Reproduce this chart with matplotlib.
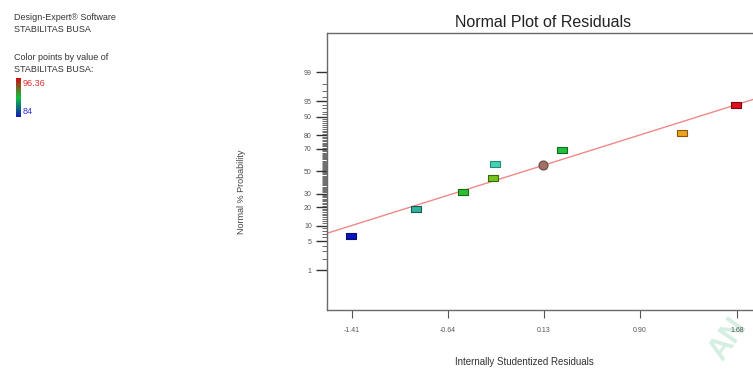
import numpy as np
import matplotlib
matplotlib.use("Agg")
import matplotlib.pyplot as plt
from matplotlib.colors import LinearSegmentedColormap
from statistics import NormalDist

plt.rcParams['font.family'] = ['Liberation Sans', 'DejaVu Sans']

# -------------------------------
# Data
# -------------------------------
residuals = [-1.418, -0.894, -0.522, -0.276, -0.260, 0.125, 0.273, 1.241, 1.672]
norm_prob = [6.3, 19.0, 31.3, 44.1, 56.8, 55.9, 68.9, 81.4, 93.9]
point_colors = ['#0a14c0', '#30b4a0', '#2cc030', '#74c41c', '#44d4b4',
                '#a07068', '#20c03c', '#f0a41c', '#e0101c']
point_edges = ['#08106a', '#1a5a50', '#1a6a1a', '#3a6a10', '#2a8a78',
               '#6a4a44', '#146a20', '#8a5a10', '#800810']
point_shapes = ['rect'] * 5 + ['round'] + ['rect'] * 3

# fitted line: z = intercept + slope * residual
line_slope = 0.92
line_intercept = 0.026

x_ticks = [-1.41, -0.64, 0.13, 0.90, 1.68]
y_major = [1, 5, 10, 20, 30, 50, 70, 80, 90, 95, 99]
y_minor = [p for p in range(2, 99) if p not in y_major]

cbar_max = "96.36"
cbar_min = "84"

nd = NormalDist()
def z(p):
    return nd.inv_cdf(p / 100.0)

# -------------------------------
# Figure
# -------------------------------
W, H = 753, 369
fig = plt.figure(figsize=(W / 100, H / 100), dpi=100)

def fx(px):
    return px / W

def fy(py):
    return 1 - py / H

# faint watermark in the corner (drawn behind the axes)
fig.text(fx(703), fy(366), "AN", rotation=55, fontsize=22, fontweight='bold',
         color='#d4efe2', ha='left', va='bottom', zorder=-1)

ax = fig.add_axes([fx(327), fy(310), (759 - 327) / W, (310 - 33) / H])
ax.patch.set_alpha(0)
ax.set_xlim(-1.612, 1.855)
ax.set_ylim(-3.26, 3.25)

frame_col = '#6a6a6a'
for s in ax.spines.values():
    s.set_color(frame_col)
    s.set_linewidth(1.0)

# fit line
xl = np.array(ax.get_xlim())
ax.plot(xl, line_intercept + line_slope * xl, color='#f08888', lw=1.0, zorder=2)

rect = [(-1, -0.6), (1, -0.6), (1, 0.6), (-1, 0.6), (-1, -0.6)]
for xv, pv, fc, ec, sh in zip(residuals, norm_prob, point_colors, point_edges, point_shapes):
    mk = rect if sh == 'rect' else 'o'
    ms = 7.5 if sh == 'rect' else 6.5
    ax.plot([xv], [z(pv)], marker=mk, markersize=ms, markerfacecolor=fc,
            markeredgecolor=ec, markeredgewidth=0.8, linestyle='none', zorder=3)

# axes ticks
ax.set_xticks(x_ticks)
ax.set_xticklabels([f"{v:.2f}" for v in x_ticks], fontsize=5, color='#555555')
ax.tick_params(axis='x', direction='out', length=6, width=0.8, color='#555555', pad=6)

ax.set_yticks([z(p) for p in y_major])
ax.set_yticklabels([str(p) for p in y_major], fontsize=5, color='#555555')
ax.set_yticks([z(p) for p in y_minor], minor=True)
ax.tick_params(axis='y', which='major', direction='out', length=8, width=1.0, color='#333333', pad=3)
ax.tick_params(axis='y', which='minor', direction='out', length=3.5, width=0.6, color='#555555')

ax.set_title("Normal Plot of Residuals", fontsize=11.5, color='#222222', pad=4)

fig.text(fx(241), fy(192), "Normal % Probability", rotation=90, fontsize=6.5,
         color='#444444', ha='center', va='center')
fig.text(fx(524), fy(362), "Internally Studentized Residuals", fontsize=7,
         color='#333333', ha='center', va='center')

# left info block
info_kw = dict(fontsize=6.5, color='#333333', ha='left', va='center')
fig.text(fx(14), fy(17), "Design-Expert\u00ae Software", **info_kw)
fig.text(fx(14), fy(29), "STABILITAS BUSA", **info_kw)
fig.text(fx(14), fy(58), "Color points by value of", **info_kw)
fig.text(fx(14), fy(69), "STABILITAS BUSA:", **info_kw)

cmap = LinearSegmentedColormap.from_list('rgb', ['#1020b0', '#10c040', '#d01010'])
cax = fig.add_axes([fx(16), fy(117), 5 / W, 39 / H])
cax.imshow(np.linspace(1, 0, 50).reshape(-1, 1), aspect='auto', cmap=cmap)
cax.set_axis_off()
fig.text(fx(23), fy(84), cbar_max, fontsize=6.5, color='#e03030', ha='left', va='center')
fig.text(fx(23), fy(111), cbar_min, fontsize=6.5, color='#3030d0', ha='left', va='center')

fig.savefig("out.png", dpi=100)
